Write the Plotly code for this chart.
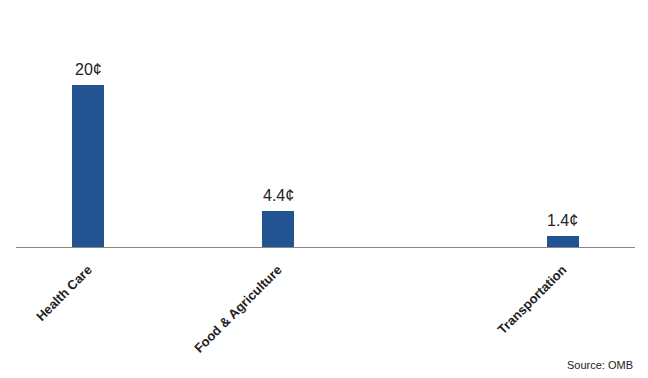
import plotly.graph_objects as go

categories = ["Health Care", " ", "Food & Agriculture", "  ", "   ", "Transportation"]
values = [20, None, 4.4, None, None, 1.4]
labels = ["20¢", "", "4.4¢", "", "", "1.4¢"]
source_text = "Source: OMB"

fig = go.Figure()
fig.add_trace(go.Bar(
    x=categories, y=values, width=0.34,
    marker=dict(color="#215490", line=dict(width=0)),
    cliponaxis=False,
))
annotations = []
for c, v, t in zip(categories, values, labels):
    if v is None:
        continue
    annotations.append(dict(
        x=c, y=v, text=t, xref="x", yref="y", showarrow=False,
        xanchor="center", yanchor="bottom", yshift=5,
        font=dict(family="Liberation Sans, Arial", size=16, color="#222222"),
    ))
annotations.append(dict(
    text=source_text, xref="paper", yref="paper", x=1.0, y=-0.52,
    xanchor="right", yanchor="middle", showarrow=False,
    font=dict(family="Liberation Sans, Arial", size=11, color="#222222"),
))
fig.update_layout(
    width=648, height=378,
    margin=dict(l=16, r=13, t=20, b=131),
    paper_bgcolor="white", plot_bgcolor="white",
    showlegend=False,
    bargap=0,
    xaxis=dict(
        type="category", categoryorder="array", categoryarray=categories,
        range=[-0.76, 5.76], showline=True, linecolor="#888888", linewidth=1,
        showgrid=False, zeroline=False, ticks="", tickangle=-45,
        tickfont=dict(family="Liberation Sans, Arial", size=13, color="#222222", weight="bold"),
        ticklabelstandoff=9,
    ),
    yaxis=dict(range=[0, 28], visible=False, showgrid=False, zeroline=False),
    annotations=annotations,
)
fig.write_html("out.html")
